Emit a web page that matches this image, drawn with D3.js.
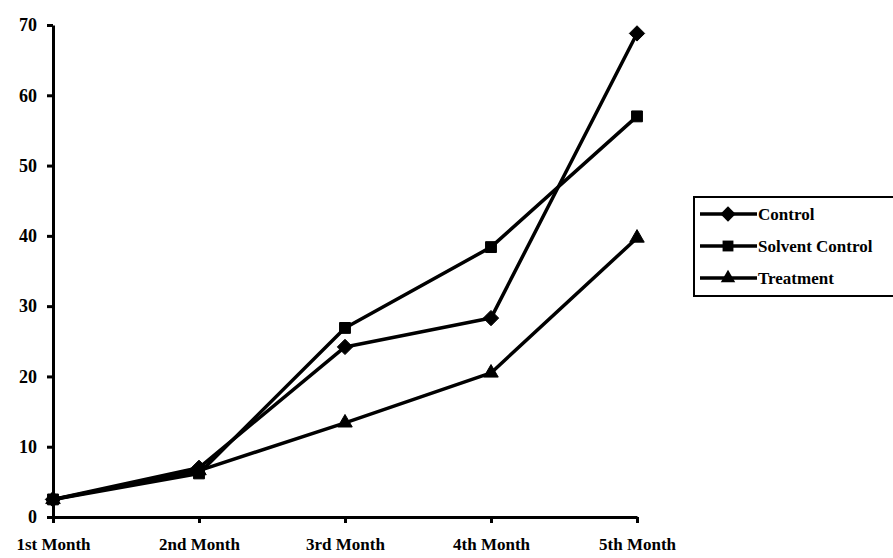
<!DOCTYPE html>
<html>
<head>
<meta charset="utf-8">
<script src="https://cdn.jsdelivr.net/npm/d3@7/dist/d3.min.js"></script>
<style>
  html, body { margin: 0; padding: 0; background: #fff; }
  svg { display: block; }
  text { font-family: "Liberation Serif", "Times New Roman", serif; font-weight: bold; fill: #000; }
</style>
</head>
<body>
<svg id="chart" width="893" height="558"></svg>
<script>
// Monthly readings per group
const months = ["1st Month", "2nd Month", "3rd Month", "4th Month", "5th Month"];
const control = [2.5, 7.0, 24.2, 28.3, 68.8];
const solventControl = [2.5, 6.2, 26.9, 38.4, 57.0];
const treatment = [2.5, 6.6, 13.4, 20.5, 39.7];
const yTicks = [0, 10, 20, 30, 40, 50, 60, 70];

const series = [
  { name: "Control", values: control, symbol: d3.symbolDiamond2 },
  { name: "Solvent Control", values: solventControl, symbol: d3.symbolSquare2 },
  { name: "Treatment", values: treatment, symbol: d3.symbolTriangle2 }
];

const svg = d3.select("#chart");
const margin = { left: 53, right: 256, top: 25, bottom: 41 };
const W = 893, H = 558;

const x = d3.scalePoint().domain(months).range([margin.left, W - margin.right]);
const y = d3.scaleLinear().domain([0, 70]).range([H - margin.bottom, margin.top]);

// Axes
const yAxis = svg.append("g")
  .attr("transform", `translate(${margin.left},0)`)
  .call(d3.axisLeft(y).tickValues(yTicks).tickSize(6).tickPadding(10).tickSizeOuter(0));
const xAxis = svg.append("g")
  .attr("transform", `translate(0,${H - margin.bottom})`)
  .call(d3.axisBottom(x).tickSize(6).tickPadding(15).tickSizeOuter(0));

[yAxis, xAxis].forEach(g => {
  g.select(".domain").attr("stroke", "#000").attr("stroke-width", 3);
  g.selectAll(".tick line").attr("stroke", "#000").attr("stroke-width", 3);
  g.selectAll(".tick text").style("font-family", "Liberation Serif, serif")
    .style("font-weight", "bold").style("font-size", "18px").attr("fill", "#000");
});
xAxis.selectAll(".tick text").style("font-size", "17px");

// Lines and markers
const line = d3.line().x((d, i) => x(months[i])).y(d => y(d));
const g = svg.append("g");
series.forEach(s => {
  g.append("path")
    .attr("d", line(s.values))
    .attr("fill", "none")
    .attr("stroke", "#000")
    .attr("stroke-width", 3.5)
    .attr("stroke-linejoin", "round");
  g.selectAll(null).data(s.values).enter().append("path")
    .attr("transform", (d, i) => `translate(${x(months[i])},${y(d)})`)
    .attr("d", d3.symbol().type(s.symbol).size(150))
    .attr("fill", "#000")
    .attr("stroke", "#000")
    .attr("stroke-width", 1);
});

// Legend
const lg = svg.append("g").attr("transform", "translate(694,197)");
lg.append("rect")
  .attr("x", 0).attr("y", 0).attr("width", 210).attr("height", 99)
  .attr("fill", "#fff").attr("stroke", "#000").attr("stroke-width", 2);
series.forEach((s, i) => {
  const cy = 17 + i * 32;
  lg.append("line").attr("x1", 6).attr("x2", 63).attr("y1", cy).attr("y2", cy)
    .attr("stroke", "#000").attr("stroke-width", 3.5);
  lg.append("path").attr("transform", `translate(34,${cy})`)
    .attr("d", d3.symbol().type(s.symbol).size(150)).attr("fill", "#000");
  lg.append("text").attr("x", 64).attr("y", cy).attr("dy", "0.35em")
    .style("font-size", "17px").text(s.name);
});
</script>
</body>
</html>
